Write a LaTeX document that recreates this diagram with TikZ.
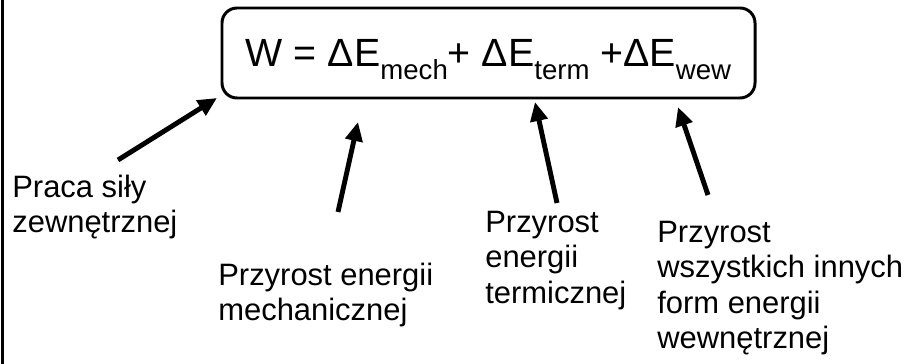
\documentclass[tikz,border=0pt]{standalone}
\usepackage{fontspec}
\setmainfont{Liberation Sans}
\usetikzlibrary{arrows.meta}
\newcommand{\sbx}[1]{\raisebox{-7.2pt}{\fontsize{15.7pt}{15.7pt}\selectfont #1}}
\begin{document}
\begin{tikzpicture}[line join=round, >={Triangle[length=0.38cm,width=0.34cm]},
	lbl/.style={anchor=base west, align=left, inner sep=0pt, font=\fontsize{17.6pt}{20.1pt}\selectfont},
	eqbox/.style={draw, line width=1.7pt, rounded corners=0.3cm, inner sep=0pt,
		minimum width=10.66cm, text height=1.18cm, text depth=0.62cm, font=\fontsize{22.4pt}{26pt}\selectfont},
	arr/.style={->, line width=2.8pt}]
	\useasboundingbox (0,0) rectangle (18.3,-7.28);
	\draw[line width=1.7pt] (0.05,0) -- (0.05,-7.28);
	\node[eqbox] (eq) at (9.77,-1.06) {W = ΔE\sbx{mech}+ ΔE\sbx{term} +ΔE\sbx{wew}\hspace{0.24cm}};
	% labels (base = last line)
	\node[lbl] (praca) at (0.24,-4.65) {Praca siły\\zewnętrznej};
	\node[lbl] (mech) at (4.36,-6.41) {Przyrost energii\\mechanicznej};
	\node[lbl] (term) at (9.70,-6.06) {Przyrost\\energii\\termicznej};
	\node[lbl] (wew) at (13.14,-6.97) {Przyrost\\wszystkich innych\\form energii\\wewnętrznej};
	% arrows
	\coordinate (a1) at (2.36,-3.20); \coordinate (b1) at (4.34,-1.96);
	\coordinate (a2) at (6.76,-4.24); \coordinate (b2) at (7.16,-2.44);
	\coordinate (a3) at (11.14,-4.06); \coordinate (b3) at (10.70,-2.04);
	\coordinate (a4) at (14.16,-3.90); \coordinate (b4) at (13.56,-2.14);
	\draw[arr] (a1) -- (b1);
	\draw[arr] (a2) -- (b2);
	\draw[arr] (a3) -- (b3);
	\draw[arr] (a4) -- (b4);
\end{tikzpicture}
\end{document}
